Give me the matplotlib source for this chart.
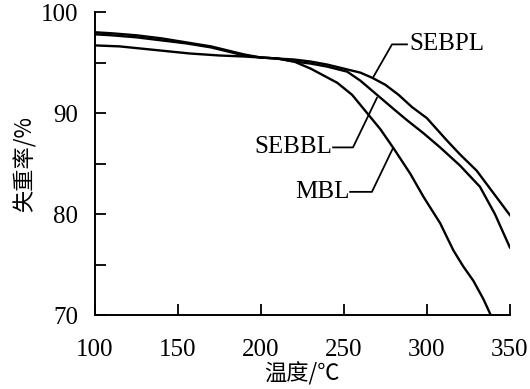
import matplotlib
matplotlib.use("Agg")
import matplotlib.pyplot as plt
from matplotlib.ticker import MultipleLocator

# ── data ──────────────────────────────────────────────────────────────────
sebpl_t = [100, 110, 125, 140, 155, 170, 180, 190, 200, 210, 220, 230, 240,
           250, 260, 267, 275, 283, 291, 300, 312, 320, 330, 340, 350]
sebpl_w = [98.0, 97.9, 97.7, 97.4, 97.0, 96.6, 96.2, 95.8, 95.5, 95.4, 95.3,
           95.1, 94.8, 94.4, 94.0, 93.5, 92.8, 91.8, 90.6, 89.5, 87.3, 85.9,
           84.3, 82.1, 79.9]

sebbl_t = [100, 110, 125, 140, 155, 170, 180, 190, 200, 210, 220, 230, 240,
           252, 260, 270, 280, 288, 298, 308, 320, 332, 341, 350]
sebbl_w = [97.8, 97.7, 97.5, 97.2, 96.9, 96.5, 96.1, 95.7, 95.5, 95.4, 95.1,
           94.9, 94.6, 94.1, 93.2, 91.8, 90.4, 89.3, 88.0, 86.6, 84.8, 82.7,
           80.0, 76.7]

mbl_t = [100, 115, 133, 157, 175, 190, 200, 210, 220, 230, 246, 255, 264,
         272, 280, 290, 298, 308, 316, 322, 328, 334, 338.5]
mbl_w = [96.7, 96.6, 96.3, 95.9, 95.7, 95.6, 95.5, 95.4, 95.1, 94.4, 93.0,
         91.8, 90.0, 88.4, 86.5, 84.0, 81.7, 79.1, 76.4, 74.8, 73.4, 71.6,
         70.0]

SERIF = ["Liberation Serif", "DejaVu Serif"]
CJK = ["Noto Sans CJK SC", "DejaVu Sans"]

fig = plt.figure(figsize=(5.3, 3.89), dpi=100)
ax = fig.add_axes([0.179, 0.190, 0.783, 0.779])

lw = 1.7
ax.plot(sebpl_t, sebpl_w, color="black", lw=lw)
ax.plot(sebbl_t, sebbl_w, color="black", lw=lw)
ax.plot(mbl_t, mbl_w, color="black", lw=lw)

# leader lines + labels
leader = dict(color="black", lw=1.3)
ax.plot([288, 279, 267.5], [96.8, 96.8, 93.5], **leader)
ax.text(289.5, 96.8, "SEBPL", fontsize=18, family=SERIF, va="center", ha="left")
ax.plot([243.5, 255.5, 269.9], [86.6, 86.6, 91.5], **leader)
ax.text(243.0, 86.6, "SEBBL", fontsize=18, family=SERIF, va="center", ha="right")
ax.plot([253.8, 266.9, 279.5], [82.2, 82.2, 86.5], **leader)
ax.text(253.3, 82.2, "MBL", fontsize=18, family=SERIF, va="center", ha="right")

ax.set_xlim(100, 350)
ax.set_ylim(70, 100)
ax.xaxis.set_major_locator(MultipleLocator(50))
ax.yaxis.set_major_locator(MultipleLocator(10))
ax.yaxis.set_minor_locator(MultipleLocator(5))
ax.tick_params(which="both", direction="in", length=8, width=1.3,
               labelsize=18)
ax.tick_params(axis="y", pad=12)
ax.tick_params(axis="x", pad=17)
for lab in ax.get_xticklabels() + ax.get_yticklabels():
    lab.set_fontfamily(SERIF)

for s in ("top", "right"):
    ax.spines[s].set_visible(False)
for s in ("left", "bottom"):
    ax.spines[s].set_linewidth(1.4)

ax.set_xlabel("温度/℃", fontsize=16, family=CJK, labelpad=1)
ax.set_ylabel("失重率/%", fontsize=16, family=CJK, labelpad=3)

fig.savefig("out.png", dpi=100)
